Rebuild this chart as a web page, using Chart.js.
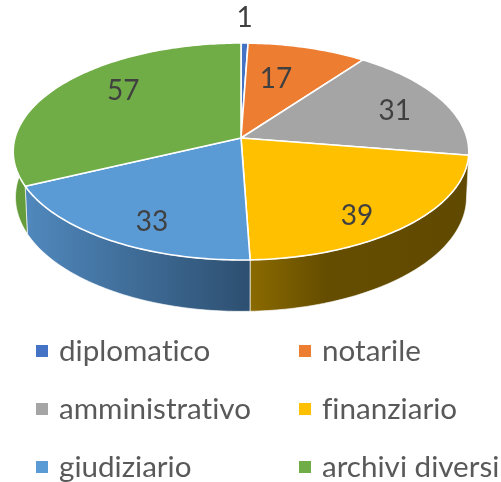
<!DOCTYPE html>
<html lang="en">
<head>
    <meta charset="UTF-8">
    <title>Archivi</title>
    <script src="https://cdn.jsdelivr.net/npm/chart.js"></script>
    <style>
        html, body { margin: 0; padding: 0; background: #fff; overflow: hidden; }
        #wrap { position: relative; width: 501px; height: 482px; }
        canvas { position: absolute; left: 0; top: 0; }
        .key { position: absolute; font: 29.6px Lato, sans-serif; font-variant-ligatures: none; color: #595959; white-space: nowrap; line-height: 34px; height: 34px; }
        .key i { position: absolute; left: -23px; top: 12px; width: 12px; height: 12px; }
    </style>
</head>
<body>
<div id="wrap">
    <canvas id="pie" width="501" height="482"></canvas>
    <div id="legend"></div>
</div>

<script>
    const categories = ['diplomatico', 'notarile', 'amministrativo', 'finanziario', 'giudiziario', 'archivi diversi'];
    const values = [1, 17, 31, 39, 33, 57];
    const colors = ['#4472c4', '#ed7d31', '#a5a5a5', '#ffc000', '#5b9bd5', '#70ad47'];
    // side wall shading, left to right
    const sideColors = [
        ['#2f5597', '#2f5597'],
        ['#a5551f', '#a5551f'],
        ['#6f6f6f', '#6f6f6f'],
        ['#8a6a00', '#604a00'],
        ['#5088bd', '#2d4f70'],
        ['#659c3c', '#5f9438']
    ];
    // how far each value label sits from its default spot
    const labelNudge = [[1, -51], [-13, 6], [12, 0], [4, 18], [0, 15], [10, -9]];

    // perspective view of the pie disc
    const view = { cx: 241, cy: 138, rx: 226, ry: 106.8, k: 0.1244, depth: 45, narrow: 0.99 };

    function project(angle, frac, lower) {
        const a = angle + Math.PI / 2;
        const u = Math.sin(a) * frac;
        const v = -Math.cos(a) * frac;
        const w = 1 - view.k * v;
        const x = view.rx * u / w * (lower ? view.narrow : 1);
        const y = view.ry * v / w + (lower ? view.depth / w : 0);
        return [view.cx + x, view.cy + y];
    }

    function arcPoints(start, end, lower) {
        const steps = Math.max(2, Math.ceil((end - start) / (Math.PI / 180)));
        const pts = [];
        for (let i = 0; i <= steps; i++) {
            pts.push(project(start + (end - start) * i / steps, 1, lower));
        }
        return pts;
    }

    function trace(ctx, pts) {
        ctx.beginPath();
        pts.forEach((p, i) => i ? ctx.lineTo(p[0], p[1]) : ctx.moveTo(p[0], p[1]));
        ctx.closePath();
    }

    const pie3d = {
        id: 'pie3d',
        beforeDatasetsDraw(chart) {
            const ctx = chart.ctx;
            const arcs = chart.getDatasetMeta(0).data;
            ctx.save();
            ctx.lineJoin = 'round';

            // side walls first, the top face covers what is behind it
            arcs.forEach((arc, i) => {
                const top = arcPoints(arc.startAngle, arc.endAngle, false);
                const low = arcPoints(arc.startAngle, arc.endAngle, true);
                const xs = top.concat(low).map(p => p[0]);
                const grad = ctx.createLinearGradient(Math.min(...xs), 0, Math.max(...xs), 0);
                grad.addColorStop(0, sideColors[i][0]);
                if (i === 3) grad.addColorStop(0.35, '#654d00');
                grad.addColorStop(1, sideColors[i][1]);
                trace(ctx, top.concat(low.reverse()));
                ctx.fillStyle = grad;
                ctx.fill();
                ctx.strokeStyle = 'rgba(255,255,255,0.8)';
                ctx.lineWidth = 0.8;
                ctx.stroke();
            });

            // top face
            arcs.forEach((arc, i) => {
                const pts = [[view.cx, view.cy]].concat(arcPoints(arc.startAngle, arc.endAngle, false));
                trace(ctx, pts);
                ctx.fillStyle = colors[i];
                ctx.fill();
                ctx.strokeStyle = '#fff';
                ctx.lineWidth = 1.6;
                ctx.stroke();
            });

            // value labels
            ctx.font = '28px Lato, sans-serif';
            ctx.fillStyle = '#404040';
            ctx.textAlign = 'center';
            ctx.textBaseline = 'middle';
            arcs.forEach((arc, i) => {
                const p = project((arc.startAngle + arc.endAngle) / 2, 0.7, false);
                ctx.fillText(String(values[i]), p[0] + labelNudge[i][0], p[1] + labelNudge[i][1]);
            });
            ctx.restore();
            return false;
        }
    };

    new Chart(document.getElementById('pie'), {
        type: 'pie',
        data: {
            labels: categories,
            datasets: [{ data: values, backgroundColor: colors, borderColor: '#fff' }]
        },
        options: {
            responsive: false,
            animation: false,
            plugins: { legend: { display: false }, tooltip: { enabled: false } }
        },
        plugins: [pie3d]
    });

    // two column legend
    const legend = document.getElementById('legend');
    categories.forEach((name, i) => {
        const key = document.createElement('div');
        key.className = 'key';
        key.style.left = (i % 2 ? 322 : 59) + 'px';
        key.style.top = (333 + Math.floor(i / 2) * 58) + 'px';
        key.innerHTML = '<i style="background:' + colors[i] + '"></i>' + name;
        legend.appendChild(key);
    });
</script>
</body>
</html>
